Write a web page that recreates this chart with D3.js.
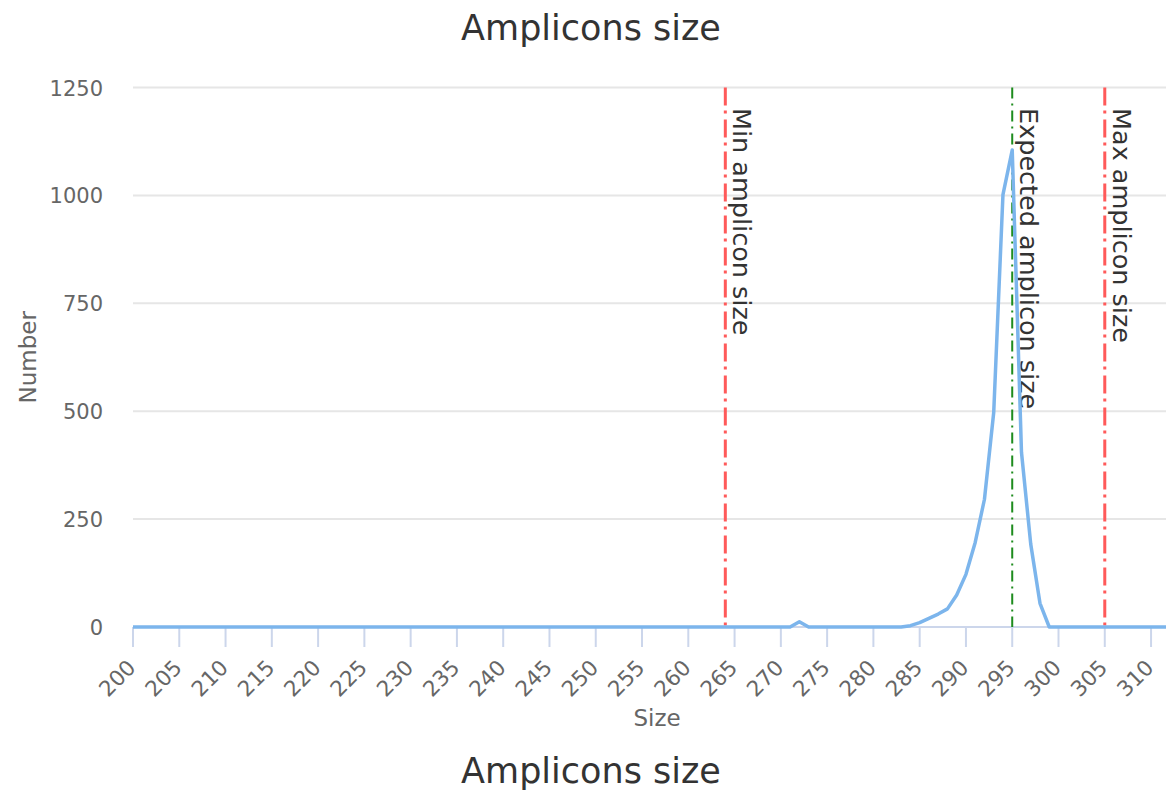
<!DOCTYPE html>
<html><head><meta charset="utf-8">
<script src="https://cdn.jsdelivr.net/npm/d3@7"></script>
<style>
body{margin:0;background:#fff}
svg{display:block;font-family:"DejaVu Sans",sans-serif}
</style>
</head><body>
<svg id="c" width="1166" height="791"></svg>
<script>
const chartTitle = "Amplicons size";
const xTitle = "Size";
const yTitle = "Number";
const sizes = [200,201,202,203,204,205,206,207,208,209,210,211,212,213,214,215,216,217,218,219,
  220,221,222,223,224,225,226,227,228,229,230,231,232,233,234,235,236,237,238,239,
  240,241,242,243,244,245,246,247,248,249,250,251,252,253,254,255,256,257,258,259,
  260,261,262,263,264,265,266,267,268,269,270,271,272,273,274,275,276,277,278,279,
  280,281,282,283,284,285,286,287,288,289,290,291,292,293,294,295,296,297,298,299,
  300,301,302,303,304,305,306,307,308,309,310,311,312,313];
const counts = [0,0,0,0,0,0,0,0,0,0,0,0,0,0,0,0,0,0,0,0,
  0,0,0,0,0,0,0,0,0,0,0,0,0,0,0,0,0,0,0,0,
  0,0,0,0,0,0,0,0,0,0,0,0,0,0,0,0,0,0,0,0,
  0,0,0,0,0,0,0,0,0,0,0,0,12,0,0,0,0,0,0,0,
  0,0,0,0,3,10,20,30,42,74,122,196,296,497,1002,1105,405,192,55,0,
  0,0,0,0,0,0,0,0,0,0,0,0,0,0];
const xTickValues = [200,205,210,215,220,225,230,235,240,245,250,255,260,265,270,275,280,285,290,295,300,305,310];
const yTickValues = [0,250,500,750,1000,1250];
const refValues = [264,295,305];
const refLabels = ["Min amplicon size","Expected amplicon size","Max amplicon size"];
const refKinds = ["limit","expected","limit"];

const svg = d3.select("#c");
const L = 133, T = 87.5, B = 627;
const x = d3.scaleLinear().domain([200, 313]).range([L, L + 113 * 9.255]);
const y = d3.scaleLinear().domain([0, 1250]).range([B, T]);
const R = x.range()[1];

// title
svg.append("text").attr("x", 591).attr("y", 40).attr("text-anchor", "middle")
  .attr("font-size", 35).attr("fill", "#333333").text(chartTitle);

// grid lines
svg.append("g").selectAll("line").data(yTickValues.filter(v => v > 0)).join("line")
  .attr("x1", L).attr("x2", R).attr("y1", d => y(d)).attr("y2", d => y(d))
  .attr("stroke", "#e6e6e6").attr("stroke-width", 2);

// y labels
svg.append("g").selectAll("text").data(yTickValues).join("text")
  .attr("x", 103).attr("y", d => y(d) + 8).attr("text-anchor", "end")
  .attr("font-size", 21).attr("fill", "#666666").text(d => d);

// y title
svg.append("text").attr("transform", `translate(36,${(T + B) / 2}) rotate(-90)`)
  .attr("text-anchor", "middle").attr("font-size", 23).attr("fill", "#666666").text(yTitle);

// x axis line and ticks
svg.append("line").attr("x1", L).attr("x2", R).attr("y1", B).attr("y2", B)
  .attr("stroke", "#ccd6eb").attr("stroke-width", 2);
svg.append("g").selectAll("line").data(xTickValues).join("line")
  .attr("x1", d => x(d)).attr("x2", d => x(d)).attr("y1", B).attr("y2", B + 20)
  .attr("stroke", "#ccd6eb").attr("stroke-width", 2);
svg.append("g").selectAll("text").data(xTickValues).join("text")
  .attr("transform", d => `translate(${x(d) + 4},${B + 42}) rotate(-45)`)
  .attr("text-anchor", "end").attr("font-size", 21.5).attr("fill", "#666666").text(d => d);

// x title
svg.append("text").attr("x", 657).attr("y", 726).attr("text-anchor", "middle")
  .attr("font-size", 23).attr("fill", "#666666").text(xTitle);

// reference lines
const refG = svg.append("g");
refValues.forEach((v, i) => {
  const isExp = refKinds[i] === "expected";
  refG.append("line").attr("x1", x(v)).attr("x2", x(v)).attr("y1", T).attr("y2", B)
    .attr("stroke", isExp ? "#1e8c1e" : "#ff5a5a")
    .attr("stroke-width", isExp ? 2 : 3)
    .attr("stroke-dasharray", isExp ? "11,5,2,5" : "18,5,3,6");
});

// series line
const line = d3.line().x((d, i) => x(sizes[i])).y(d => y(d));
svg.append("path").datum(counts).attr("d", line).attr("fill", "none")
  .attr("stroke", "#7cb5ec").attr("stroke-width", 3.5).attr("stroke-linejoin", "round");

// reference labels
refValues.forEach((v, i) => {
  refG.append("text").attr("transform", `translate(${x(v) + 8},108) rotate(90)`)
    .attr("font-size", 25.5).attr("fill", "#333333").text(refLabels[i]);
});

// bottom caption
svg.append("text").attr("x", 591).attr("y", 783).attr("text-anchor", "middle")
  .attr("font-size", 35).attr("fill", "#333333").text(chartTitle);
</script>
</body></html>
